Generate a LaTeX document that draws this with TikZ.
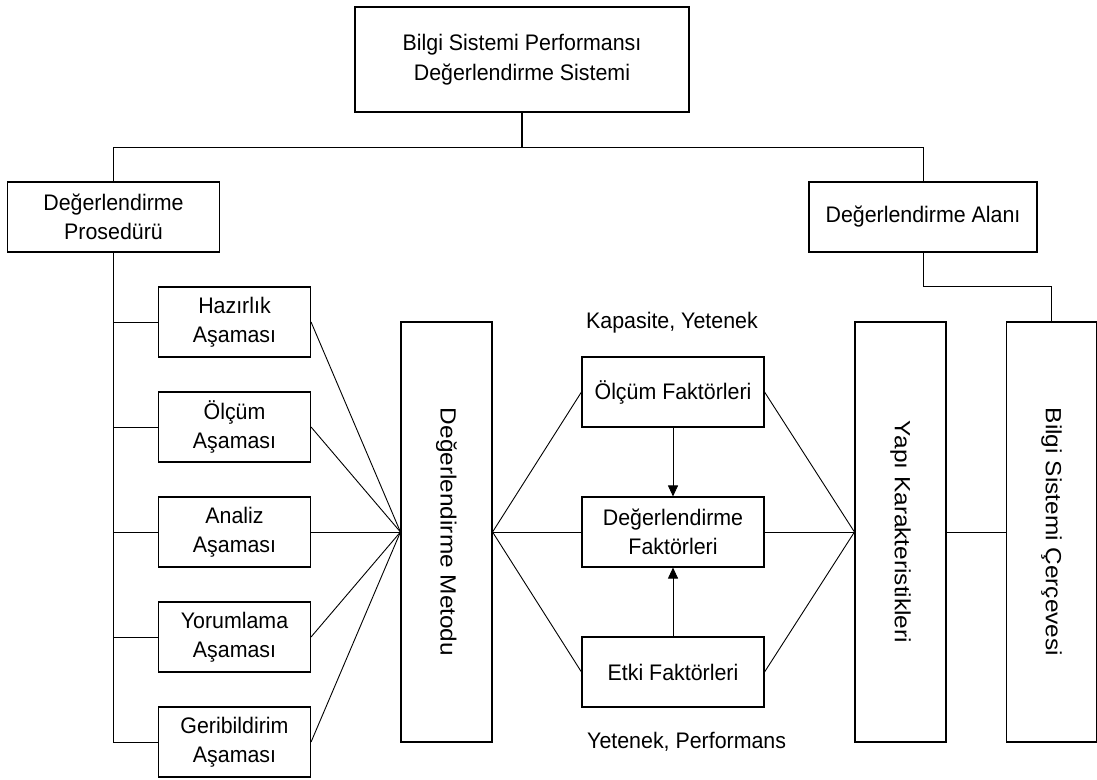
\documentclass[tikz,border=0pt]{standalone}
\usepackage{fontspec}
\setmainfont{Liberation Sans}[FakeStretch=0.95]
\newfontfamily\colfont{Liberation Sans}[FakeStretch=1.11]
\usetikzlibrary{arrows.meta}

\begin{document}
\begin{tikzpicture}[x=1pt,y=-1pt,
  every node/.style={font=\fontsize{22.5}{29.5}\selectfont, inner sep=0pt, align=center},
  box/.style={draw=black, line width=1.1pt, minimum width=#1, fill=white},
  wide/.style={box=#1, minimum height=70pt},
  tall/.style={box=#1, minimum height=420pt},
  vtext/.style={rotate=-90, font=\colfont\fontsize{22}{28}\selectfont},
  link/.style={draw=black, line width=0.9pt},
  flow/.style={link, -{Triangle[length=11pt,width=10pt]}},
  label/.style={anchor=west}
]
\useasboundingbox (0,0) rectangle (1097,779);

% top level and its two branches
\node[box=334pt, minimum height=105pt] (top) at (522,59.5) {Bilgi Sistemi Performansı\\Değerlendirme Sistemi};
\node[wide=212pt] (proc) at (113.5,217) {Değerlendirme\\Prosedürü};
\node[wide=228pt] (alan) at (923,217) {Değerlendirme Alanı};

% phases of the procedure
\node[wide=152pt] (p1) at (234.5,322) {Hazırlık\\Aşaması};
\node[wide=152pt] (p2) at (234.5,427) {Ölçüm\\Aşaması};
\node[wide=152pt] (p3) at (234.5,532) {Analiz\\Aşaması};
\node[wide=152pt] (p4) at (234.5,637) {Yorumlama\\Aşaması};
\node[wide=152pt] (p5) at (234.5,742) {Geribildirim\\Aşaması};

% method column
\node[tall=91pt] (met) at (446.5,532) {};
\node[vtext] at (met.center) {Değerlendirme Metodu};

% factors
\node[wide=182pt] (olc) at (673,392) {Ölçüm Faktörleri};
\node[wide=182pt] (deg) at (673,532) {Değerlendirme\\Faktörleri};
\node[wide=182pt] (etk) at (673,672) {Etki Faktörleri};
\node[label] (kap) at (586,323) {Kapasite, Yetenek};
\node[label] (yet) at (587,742) {Yetenek, Performans};

% structure and frame columns
\node[tall=91pt] (yapi) at (900.5,532) {};
\node[vtext] at (yapi.center) {Yapı Karakteristikleri};
\node[tall=90pt] (cer) at (1051.5,532) {};
\node[vtext] at (cer.center) {Bilgi Sistemi Çerçevesi};

% tree connectors
\coordinate (busL) at (113,147);
\coordinate (busR) at (923,147);
\coordinate (elbow) at (923,286);
\draw[link, line width=2.4pt] (top.south) -- (top.south |- busL);
\draw[link] (proc.north -| busL) -- (busL) -- (busR) -- (alan.north);
\draw[link] (alan.south) -- (elbow) -| (cer.north);

% procedure spine
\draw[link] (proc.south -| busL) |- (p5.west);
\foreach \p in {p1,p2,p3,p4}
  \draw[link] (busL |- \p.west) -- (\p.west);

% phases into method
\foreach \p in {p1,p2,p3,p4,p5}
  \draw[link] (\p.east) -- (met.west);

% method into factors, factors into structure
\foreach \f in {olc,deg,etk}{
  \draw[link] (met.east) -- (\f.west);
  \draw[link] (\f.east) -- (yapi.west);
}
\draw[flow] (olc.south) -- (deg.north);
\draw[flow] (etk.north) -- (deg.south);
\draw[link] (yapi.east) -- (cer.west);
\end{tikzpicture}
\end{document}
